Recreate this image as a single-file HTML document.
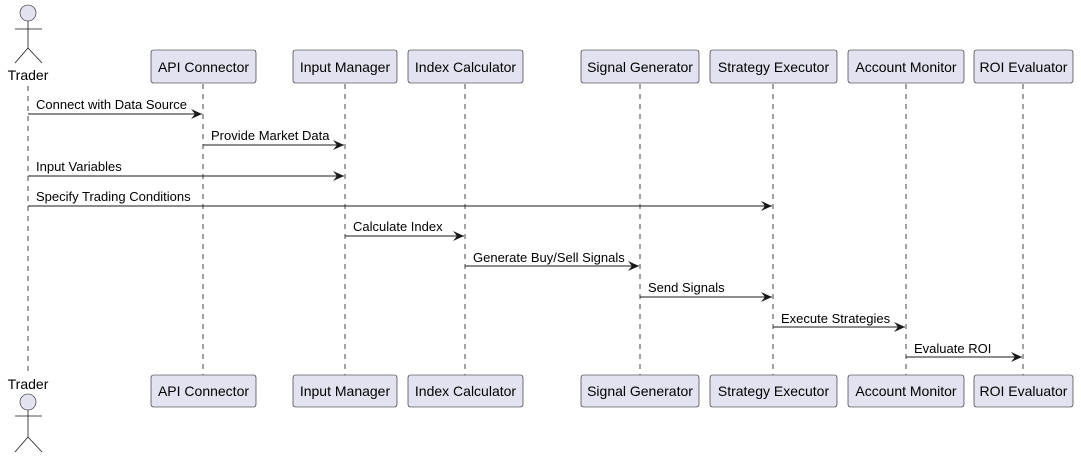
<!DOCTYPE html>
<html><head><meta charset="utf-8"><style>html,body{margin:0;padding:0;background:#fff}svg{display:block}</style></head><body>
<svg width="1081" height="456" viewBox="0 0 1081 456" xmlns="http://www.w3.org/2000/svg" font-family="Liberation Sans, sans-serif">
<defs><marker id="a" markerWidth="12" markerHeight="10" refX="11" refY="5" orient="auto" markerUnits="userSpaceOnUse"><path d="M0,0 L11,5 L0,10 L4,5 Z" fill="#181818"/></marker></defs>
<g stroke="#181818" stroke-width="0.8" stroke-dasharray="5,5">
<line x1="28" y1="86" x2="28" y2="376"/>
<line x1="203" y1="84" x2="203" y2="375"/>
<line x1="345" y1="84" x2="345" y2="375"/>
<line x1="465" y1="84" x2="465" y2="375"/>
<line x1="640" y1="84" x2="640" y2="375"/>
<line x1="773" y1="84" x2="773" y2="375"/>
<line x1="906" y1="84" x2="906" y2="375"/>
<line x1="1023" y1="84" x2="1023" y2="375"/>
</g>
<g fill="#E2E2F0" stroke="#181818" stroke-width="0.6">
<circle cx="28" cy="13" r="8"/>
<circle cx="28" cy="402" r="8"/>
</g>
<g stroke="#181818" stroke-width="0.8" fill="none">
<path d="M28,21 V48 M15,29 H42 M28,48 L15,63 M28,48 L42,63"/>
<path d="M28,410 V437 M15,416 H42 M28,437 L15,452 M28,437 L42,452"/>
</g>
<g font-size="14" fill="#000" text-anchor="middle">
<text x="28" y="80">Trader</text>
<text x="28" y="389">Trader</text>
</g>
<g fill="#E2E2F0" stroke="#181818" stroke-width="0.6">
<rect x="151" y="50" width="105" height="33" rx="2.5"/>
<rect x="293" y="50" width="104" height="33" rx="2.5"/>
<rect x="408" y="50" width="115" height="33" rx="2.5"/>
<rect x="581" y="50" width="118" height="33" rx="2.5"/>
<rect x="710" y="50" width="127" height="33" rx="2.5"/>
<rect x="848" y="50" width="116" height="33" rx="2.5"/>
<rect x="974" y="50" width="99" height="33" rx="2.5"/>
<rect x="151" y="375" width="105" height="32" rx="2.5"/>
<rect x="293" y="375" width="104" height="32" rx="2.5"/>
<rect x="408" y="375" width="115" height="32" rx="2.5"/>
<rect x="581" y="375" width="118" height="32" rx="2.5"/>
<rect x="710" y="375" width="127" height="32" rx="2.5"/>
<rect x="848" y="375" width="116" height="32" rx="2.5"/>
<rect x="974" y="375" width="99" height="32" rx="2.5"/>
</g>
<g font-size="14" fill="#000" text-anchor="middle">
<text x="203.5" y="72">API Connector</text>
<text x="345" y="72">Input Manager</text>
<text x="465.5" y="72">Index Calculator</text>
<text x="640" y="72">Signal Generator</text>
<text x="773.5" y="72">Strategy Executor</text>
<text x="906" y="72">Account Monitor</text>
<text x="1023.5" y="72">ROI Evaluator</text>
<text x="203.5" y="396">API Connector</text>
<text x="345" y="396">Input Manager</text>
<text x="465.5" y="396">Index Calculator</text>
<text x="640" y="396">Signal Generator</text>
<text x="773.5" y="396">Strategy Executor</text>
<text x="906" y="396">Account Monitor</text>
<text x="1023.5" y="396">ROI Evaluator</text>
</g>
<g stroke="#181818" stroke-width="1" marker-end="url(#a)">
<line x1="28" y1="114" x2="202" y2="114"/>
<line x1="203" y1="145" x2="344" y2="145"/>
<line x1="28" y1="176" x2="344" y2="176"/>
<line x1="28" y1="206" x2="772" y2="206"/>
<line x1="345" y1="236" x2="464" y2="236"/>
<line x1="465" y1="266" x2="639" y2="266"/>
<line x1="640" y1="297" x2="772" y2="297"/>
<line x1="773" y1="327" x2="905" y2="327"/>
<line x1="906" y1="357" x2="1022" y2="357"/>
</g>
<g font-size="13" fill="#000">
<text x="36" y="109">Connect with Data Source</text>
<text x="211" y="140">Provide Market Data</text>
<text x="36" y="171">Input Variables</text>
<text x="36" y="201">Specify Trading Conditions</text>
<text x="353" y="231">Calculate Index</text>
<text x="473" y="262">Generate Buy/Sell Signals</text>
<text x="648" y="292">Send Signals</text>
<text x="781" y="323">Execute Strategies</text>
<text x="914" y="353">Evaluate ROI</text>
</g>
</svg>
</body></html>
